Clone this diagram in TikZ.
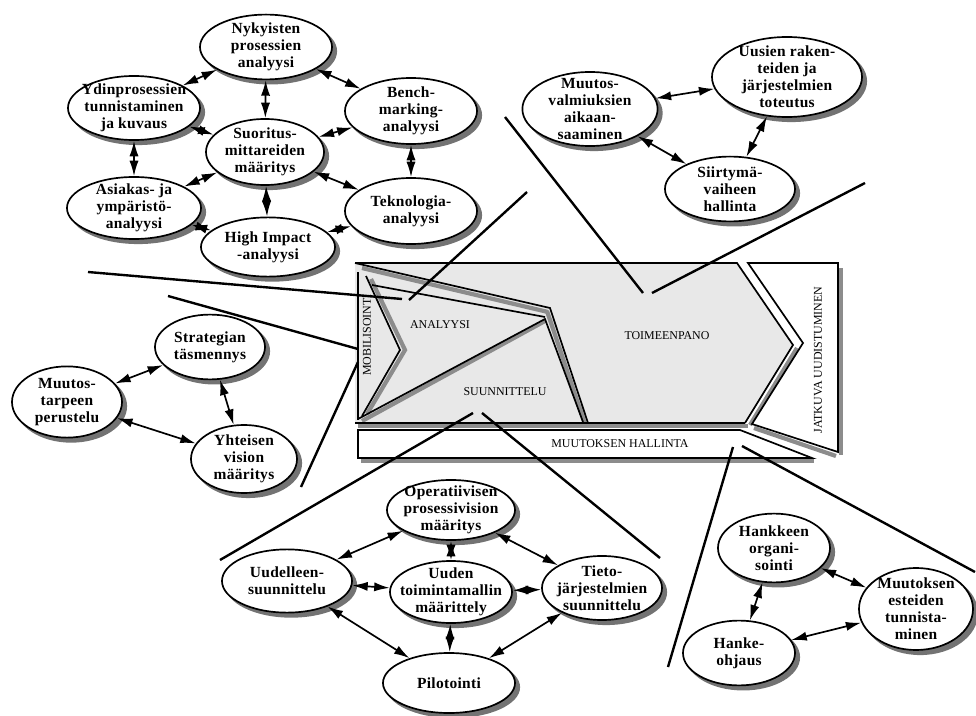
\documentclass[tikz,border=0pt]{standalone}
\usepackage{fontspec}
\setmainfont{Liberation Serif}
\newfontfamily\solmufont[LetterSpace=2]{Liberation Serif}
\usepackage{tikz}
\usetikzlibrary{shapes.geometric, arrows.meta}

\tikzset{
    vaihe/.style={ellipse, draw, line width=1.2pt, fill=white, align=center, inner sep=-12pt,
        font={\solmufont\bfseries\fontsize{11}{12}\selectfont}},
    koko/.style 2 args={minimum width=#1cm, minimum height=#2cm},
    pil/.style={{Latex[length=11pt,width=6.5pt]}-{Latex[length=11pt,width=6.5pt]}, line width=1.2pt},
    viiva/.style={line width=1.7pt},
    reuna/.style={line width=1.2pt},
    varjo/.style={line width=3pt, black!45},
    otsikko/.style={font=\fontsize{8.5}{10}\selectfont}
}

\begin{document}
\begin{tikzpicture}[x=0.025cm, y=-0.025cm]
    \useasboundingbox (0,0) rectangle (976,716);

    % Keskuskuvio: pohja ja varjot
    \fill[black!9] (355,263) -- (737,263) -- (793,345) -- (745,423) -- (355,423) -- cycle;
    \draw[varjo] (358,426) -- (748,426);
    \draw[varjo] (362,268) -- (548,312);
    \draw[varjo] (547,311) -- (585,424);
    \draw[varjo] (362,421) -- (545,321);
    \draw[varjo] (371,279) -- (405,350) -- (367,414);
    \draw[varjo] (797,348) -- (750,425);
    \draw[varjo] (841,268) -- (841,455);
    \draw[varjo] (754,428) -- (836,456);
    \draw[varjo] (361,461) -- (814,461);

    % Keskuskuvio: reunat
    \draw[reuna] (355,263) -- (737,263) -- (793,345) -- (745,423);
    \draw[reuna] (355,423) -- (745,423);
    \draw[reuna] (355,263) -- (550,308) -- (588,423);
    \draw[reuna] (372,285) -- (545,317);
    \draw[reuna] (358,419) -- (545,319) -- (583,422);
    \draw[reuna] (358,272) -- (358,420);
    \draw[reuna] (366,276) -- (400,350) -- (362,416);
    \draw[reuna, fill=white] (748,263) -- (838,263) -- (838,452) -- (752,424) -- (803,343) -- cycle;
    \draw[reuna, fill=white] (358,430) -- (740,430) -- (812,458) -- (358,458) -- cycle;

    \node[otsikko] (ana) at (440,325) {ANALYYSI};
    \node[otsikko] (suu) at (505,392) {SUUNNITTELU};
    \node[otsikko] (toi) at (667,336) {TOIMEENPANO};
    \node[otsikko] (muu) at (620,444) {MUUTOKSEN HALLINTA};
    \node[otsikko, rotate=90] (mob) at (367,335) {MOBILISOINTI};
    \node[otsikko, rotate=90] (jat) at (818,360) {JATKUVA UUDISTUMINEN};

    % Soikiot varjoineen: nimi/x/y/leveys/korkeus/teksti
    \foreach \nimi/\px/\py/\lev/\kor/\teksti in {
        nyk/266/47/3.3/1.62/{Nykyisten\\prosessien\\analyysi},
        ydin/134/108/3.3/1.6/{Ydinprosessien\\tunnistaminen\\ja kuvaus},
        bench/411/111/3.3/1.65/{Bench-\\marking-\\analyysi},
        suor/265/152/2.95/1.65/{Suoritus-\\mittareiden\\määritys},
        asiak/134/208/3.35/1.55/{Asiakas- ja\\ympäristö-\\analyysi},
        tekno/411/211/3.3/1.65/{Teknologia-\\analyysi},
        high/268/247/3.35/1.48/{High Impact\\-analyysi},
        valm/590/109/3.38/1.85/{Muutos-\\valmiuksien\\aikaan-\\saaminen},
        uus/787/77/3.75/2.0/{Uusien raken-\\teiden ja\\järjestelmien\\toteutus},
        siirt/730/189/3.25/1.62/{Siirtymä-\\vaiheen\\hallinta},
        strat/210/347/2.75/1.62/{Strategian\\täsmennys},
        tarve/67/402/2.75/1.78/{Muutos-\\tarpeen\\perustelu},
        yht/244/459/2.65/1.7/{Yhteisen\\vision\\määritys},
        oper/451/510/3.2/1.5/{Operatiivisen\\prosessivision\\määritys},
        uudel/287/581/3.25/1.58/{Uudelleen-\\suunnittelu},
        uuden/451/592/3.05/1.55/{Uuden\\toimintamallin\\määrittely},
        tieto/602/588/3.0/1.6/{Tieto-\\järjestelmien\\suunnittelu},
        pilot/449/683/3.3/1.5/{Pilotointi},
        hank/774/548/2.8/1.72/{Hankkeen\\organi-\\sointi},
        este/916/609/2.85/2.05/{Muutoksen\\esteiden\\tunnista-\\minen},
        ohj/739/653/2.8/1.62/{Hanke-\\ohjaus}} {
        \fill[black!55] ([shift={(3pt,-3pt)}]\px,\py) ellipse [x radius=\lev*0.5cm+0.6pt, y radius=\kor*0.5cm+0.6pt];
        \node[vaihe, koko={\lev}{\kor}] (\nimi) at (\px,\py) {\teksti};
    }

    % Nuolet ryhmien sisällä
    \foreach \a/\b in {nyk/ydin, nyk/bench, nyk/suor, ydin/suor, ydin/asiak, bench/suor,
        bench/tekno, suor/asiak, suor/tekno, suor/high, asiak/high, tekno/high,
        valm/uus, valm/siirt, uus/siirt,
        tarve/strat, tarve/yht, strat/yht,
        oper/uudel, oper/uuden, oper/tieto, uudel/uuden, uuden/tieto,
        uudel/pilot, uuden/pilot, tieto/pilot,
        hank/este, hank/ohj, este/ohj}
        \draw[pil] (\a) -- (\b);

    % Viivat ryhmistä keskuskuvioon
    \draw[viiva] (88,272) -- (402,299);
    \draw[viiva] (409,300) -- (527,192);
    \draw[viiva] (505,117) -- (643,293);
    \draw[viiva] (652,293) -- (865,183);
    \draw[viiva] (168,296) -- (358,349);
    \draw[viiva] (358,362) -- (301,487);
    \draw[viiva] (473,413) -- (220,560);
    \draw[viiva] (482,413) -- (660,558);
    \draw[viiva] (733,447) -- (668,667);
    \draw[viiva] (742,446) -- (975,572);
\end{tikzpicture}
\end{document}
